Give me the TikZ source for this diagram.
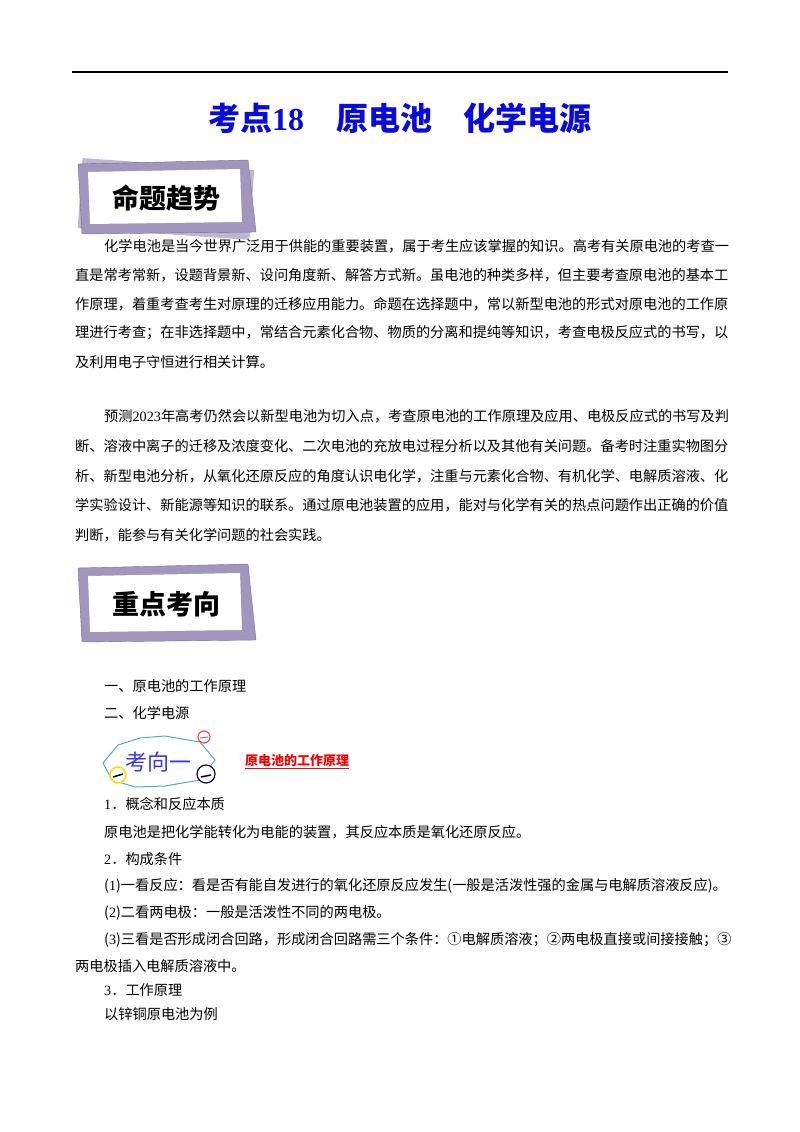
\documentclass[tikz,border=0pt]{standalone}
\usepackage{fontspec}
\setmainfont{Noto Sans CJK SC}
\newfontfamily\lat{Liberation Serif}
\usepackage{xcolor}
\definecolor{ttl}{RGB}{10,10,220}
\definecolor{ban}{RGB}{160,150,190}
\definecolor{bandk}{RGB}{120,110,150}
\begin{document}
\begin{tikzpicture}[x=1pt,y=-1pt,
  ln/.style={anchor=west,inner sep=0pt,font=\fontsize{14.2}{16}\selectfont},
  bt/.style={font=\fontsize{27}{29}\selectfont\bfseries}]
\useasboundingbox (0,0) rectangle (800,1132);
\draw[line width=1.5pt] (72,72) -- (728,72);
\node[inner sep=0pt,text=ttl,font=\fontsize{32}{34}\selectfont\bfseries] (title) at (400,118) {考点{\lat 18}\quad 原电池\quad 化学电源};
% banner 1
\begin{scope}[shift={(166,198)}]
\fill[ban!70,rotate=-4] (-86,-34) rectangle (86,36);
\fill[ban,draw=bandk] (-88,-34) -- (82,-38) -- (90,34) -- (-84,36) -- cycle;
\fill[white] (-78,-26) -- (74,-29) -- (76,24) -- (-76,26) -- cycle;
\node[bt] (b1) at (0,0) {命题趋势};
\end{scope}
% banner 2
\begin{scope}[shift={(166,604)}]
\fill[ban,draw=bandk] (-88,-36) -- (82,-40) -- (90,36) -- (-84,38) -- cycle;
\fill[white] (-78,-28) -- (74,-31) -- (76,26) -- (-76,28) -- cycle;
\node[bt] (b2) at (0,0) {重点考向};
\end{scope}
% paragraphs
\node[ln] (p1) at (104,246) {化学电池是当今世界广泛用于供能的重要装置，属于考生应该掌握的知识。高考有关原电池的考查一};
\node[ln] (p2) at (75,275) {直是常考常新，设题背景新、设问角度新、解答方式新。虽电池的种类多样，但主要考查原电池的基本工};
\node[ln] (p3) at (75,304) {作原理，着重考查考生对原理的迁移应用能力。命题在选择题中，常以新型电池的形式对原电池的工作原};
\node[ln] (p4) at (75,333) {理进行考查；在非选择题中，常结合元素化合物、物质的分离和提纯等知识，考查电极反应式的书写，以};
\node[ln] (p5) at (75,362) {及利用电子守恒进行相关计算。};
\node[ln] (q1) at (104,416) {预测{\lat 2023}年高考仍然会以新型电池为切入点，考查原电池的工作原理及应用、电极反应式的书写及判};
\node[ln] (q2) at (75,446) {断、溶液中离子的迁移及浓度变化、二次电池的充放电过程分析以及其他有关问题。备考时注重实物图分};
\node[ln] (q3) at (75,476) {析、新型电池分析，从氧化还原反应的角度认识电化学，注重与元素化合物、有机化学、电解质溶液、化};
\node[ln] (q4) at (75,505) {学实验设计、新能源等知识的联系。通过原电池装置的应用，能对与化学有关的热点问题作出正确的价值};
\node[ln] (q5) at (75,535) {判断，能参与有关化学问题的社会实践。};
\node[ln] (l1) at (104,686) {一、原电池的工作原理};
\node[ln] (l2) at (104,713) {二、化学电源};
% icon
\draw[cyan!60!gray,line width=1pt,fill=white] (103,763) -- (118,745) -- (140,738) -- (165,736) -- (200,742) -- (215,760) -- (200,780) -- (165,786) -- (135,787) -- (112,780) -- cycle;
\node[inner sep=0pt,text=blue!80,font=\fontsize{22}{24}\selectfont] (ic) at (158,762) {考向一};
\draw[red!70,line width=1.2pt,fill=white] (204,737) circle (6);
\draw[gray,line width=1pt] (200,738) -- (208,737);
\draw[yellow!80!orange,line width=1.5pt,fill=white] (118,775) circle (8);
\draw[black,line width=1.5pt] (113,777) -- (123,774);
\draw[black!70!blue,line width=1.2pt,fill=white] (206,774) circle (9);
\draw[black,line width=1.5pt] (201,777) -- (211,775);
\node[anchor=west,inner sep=0pt,text=red,font=\fontsize{13}{14}\selectfont\bfseries] (h1) at (245,762) {\underline{原电池的工作原理}};
% section
\node[ln] (s1) at (104,804) {{\lat 1}．概念和反应本质};
\node[ln] (s2) at (104,832) {原电池是把化学能转化为电能的装置，其反应本质是氧化还原反应。};
\node[ln] (s3) at (104,859) {{\lat 2}．构成条件};
\node[ln] (s4) at (104,886) {({\lat 1})一看反应：看是否有能自发进行的氧化还原反应发生(一般是活泼性强的金属与电解质溶液反应)。};
\node[ln] (s5) at (104,913) {({\lat 2})二看两电极：一般是活泼性不同的两电极。};
\node[ln] (s6) at (104,940) {({\lat 3})三看是否形成闭合回路，形成闭合回路需三个条件：①电解质溶液；②两电极直接或间接接触；③};
\node[ln] (s7) at (75,966) {两电极插入电解质溶液中。};
\node[ln] (s8) at (104,990) {{\lat 3}．工作原理};
\node[ln] (s9) at (104,1014) {以锌铜原电池为例};
\end{tikzpicture}
\end{document}
